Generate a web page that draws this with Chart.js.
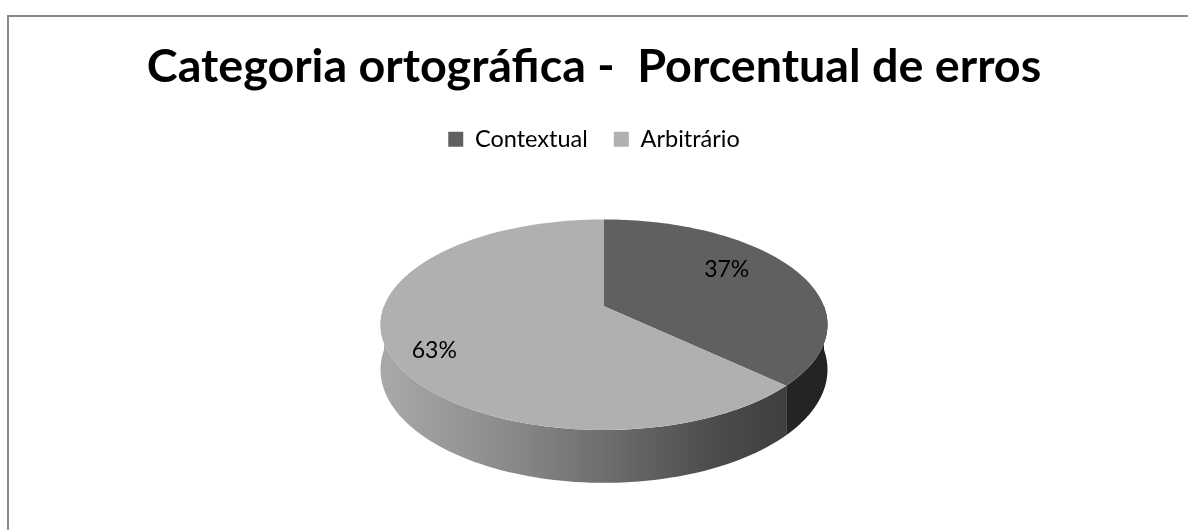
<!DOCTYPE html>
<html lang="pt">
<head>
    <meta charset="UTF-8">
    <title>Categoria ortográfica - Porcentual de erros</title>
    <script src="https://cdn.jsdelivr.net/npm/chart.js"></script>
    <style>
        body { margin: 0; background: #fff; }
        #frame {
            position: absolute; left: 7px; top: 15px; width: 1300px; height: 600px;
            border-left: 2px solid #8a8a8a; border-top: 2px solid #8a8a8a;
        }
        #myChart { position: absolute; left: 0; top: 0; }
    </style>
</head>
<body>
    <div id="frame"></div>
    <canvas id="myChart" width="1188" height="530"></canvas>

    <script>
        // dados
        const categories = ["Contextual", "Arbitrário"];
        const values = [37, 63];

        // estilo
        const topColors = ["#606060", "#b0b0b0"];
        const sideStops = [
            [[0, "#333333"], [1, "#232323"]],
            [[0, "#a8a8a8"], [0.25, "#8e8e8e"], [0.5, "#6e6e6e"], [0.75, "#4c4c4c"], [1, "#383838"]]
        ];
        const PIE_DX = 10;
        const STRETCH_X = 1.515;
        const STRETCH_Y = 0.703;
        const DEPTH = 0.300;
        const PERSPECTIVE = 0.175;

        function geom(arc) {
            const r = arc.outerRadius;
            return {
                cx: arc.x + PIE_DX, cy: arc.y,
                rx: r * STRETCH_X, ry: r * STRETCH_Y,
                depth: r * DEPTH, p: PERSPECTIVE
            };
        }

        function project(g, ang, r, h) {
            const u = r * Math.cos(ang), v = r * Math.sin(ang);
            const s = 1 / (1 - g.p * v);
            return [g.cx + g.rx * u * s, g.cy + (g.ry * v + h * g.depth) * s];
        }

        // partes da fatia que ficam na frente (sin > 0)
        function frontRanges(a1, a2) {
            const out = [];
            for (let k = -1; k <= 1; k++) {
                const lo = Math.max(a1, k * 2 * Math.PI), hi = Math.min(a2, k * 2 * Math.PI + Math.PI);
                if (hi > lo) out.push([lo, hi]);
            }
            return out;
        }

        const pie3d = {
            id: "pie3d",
            beforeDatasetsDraw(chart) {
                const ctx = chart.ctx;
                const arcs = chart.getDatasetMeta(0).data;
                if (!arcs.length) return false;
                const g = geom(arcs[0]);
                const N = 80;

                // laterais
                arcs.forEach((arc, i) => {
                    frontRanges(arc.startAngle, arc.endAngle).forEach(([a1, a2]) => {
                        ctx.beginPath();
                        for (let j = 0; j <= N; j++) {
                            const p = project(g, a1 + (a2 - a1) * j / N, 1, 0);
                            j ? ctx.lineTo(p[0], p[1]) : ctx.moveTo(p[0], p[1]);
                        }
                        for (let j = N; j >= 0; j--) {
                            const p = project(g, a1 + (a2 - a1) * j / N, 1, 1);
                            ctx.lineTo(p[0], p[1]);
                        }
                        ctx.closePath();
                        const grad = ctx.createLinearGradient(g.cx - g.rx, 0, g.cx + g.rx, 0);
                        sideStops[i].forEach(s => grad.addColorStop(s[0], s[1]));
                        ctx.fillStyle = grad;
                        ctx.fill();
                    });
                });

                // topo
                arcs.forEach(arc => {
                    ctx.beginPath();
                    ctx.moveTo(g.cx, g.cy);
                    const a1 = arc.startAngle, a2 = arc.endAngle;
                    for (let j = 0; j <= N; j++) {
                        const p = project(g, a1 + (a2 - a1) * j / N, 1, 0);
                        ctx.lineTo(p[0], p[1]);
                    }
                    ctx.closePath();
                    ctx.fillStyle = arc.options.backgroundColor;
                    ctx.fill();
                });
                return false;
            },
            afterDraw(chart) {
                // rótulos de porcentagem
                const ctx = chart.ctx;
                const arcs = chart.getDatasetMeta(0).data;
                if (!arcs.length) return;
                const g = geom(arcs[0]);
                const total = values.reduce((a, b) => a + b, 0);
                ctx.save();
                ctx.font = "23px Lato";
                ctx.fillStyle = "#000";
                ctx.textAlign = "center";
                ctx.textBaseline = "middle";
                arcs.forEach((arc, i) => {
                    const mid = (arc.startAngle + arc.endAngle) / 2;
                    const x = g.cx + g.rx * Math.cos(mid) * 0.724 - 23.5;
                    const y = g.cy + g.ry * Math.sin(mid) + 4;
                    ctx.fillText(Math.round(values[i] / total * 100) + "%", x, y);
                });
                ctx.restore();
            }
        };

        new Chart(document.getElementById("myChart"), {
            type: "pie",
            data: {
                labels: categories,
                datasets: [{
                    data: values,
                    backgroundColor: topColors,
                    borderWidth: 0
                }]
            },
            options: {
                responsive: false,
                animation: false,
                events: [],
                layout: { padding: { top: 0, bottom: 78.5, left: 0, right: 0 } },
                plugins: {
                    title: {
                        display: true,
                        text: "Categoria ortográfica -  Porcentual de erros",
                        color: "#000",
                        font: { family: "Lato", size: 46.7, weight: "bold" },
                        padding: { top: 38.6, bottom: 6.9 }
                    },
                    legend: {
                        position: "top",
                        labels: {
                            color: "#000",
                            font: { family: "Lato", size: 23.5 },
                            boxWidth: 15,
                            boxHeight: 15,
                            padding: 26
                        }
                    },
                    tooltip: { enabled: false }
                }
            },
            plugins: [pie3d]
        });
    </script>
</body>
</html>
